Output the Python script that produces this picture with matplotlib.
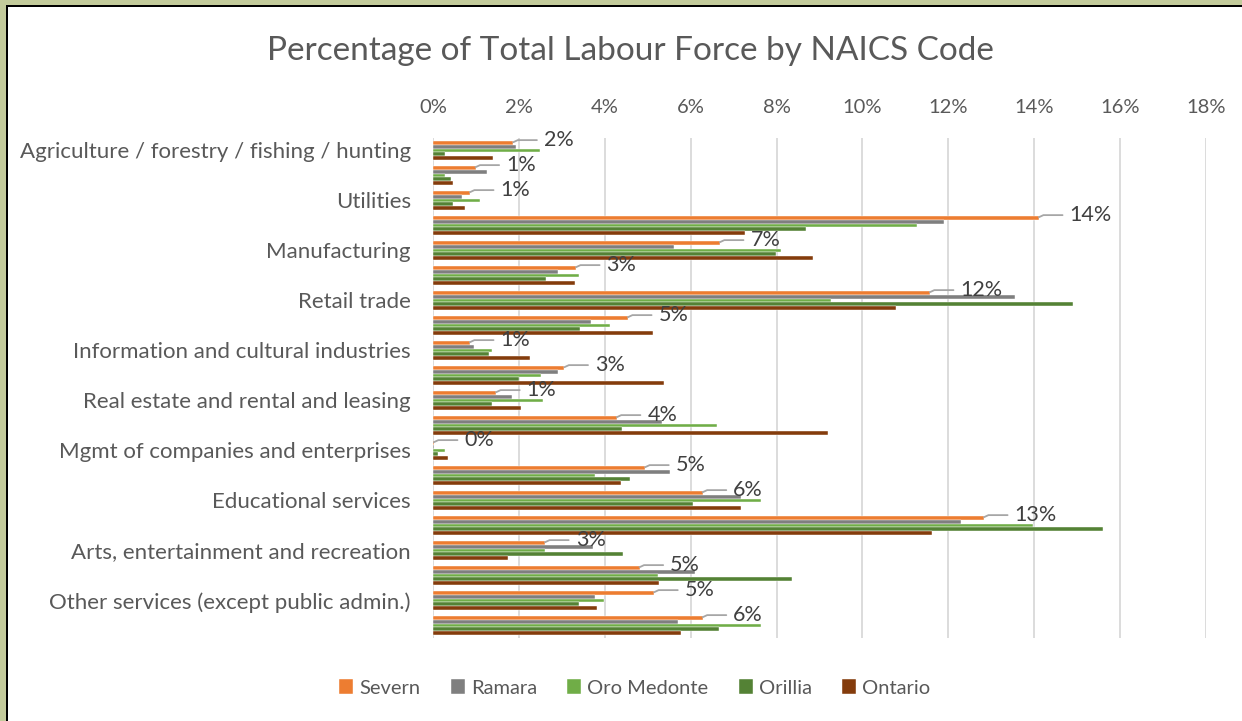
import matplotlib.pyplot as plt
import numpy as np
from matplotlib.patches import Rectangle

plt.rcParams['font.family'] = ['Lato', 'DejaVu Sans']

# NAICS sectors, top to bottom
sectors = [
    "Agriculture / forestry / fishing / hunting",
    "Mining / oil and gas extraction",
    "Utilities",
    "Construction",
    "Manufacturing",
    "Wholesale trade",
    "Retail trade",
    "Transportation and warehousing",
    "Information and cultural industries",
    "Finance and insurance",
    "Real estate and rental and leasing",
    "Professional, scientific and technical services",
    "Mgmt of companies and enterprises",
    "Administrative and support services",
    "Educational services",
    "Health care and social assistance",
    "Arts, entertainment and recreation",
    "Accommodation and food services",
    "Other services (except public admin.)",
    "Public administration",
]

# share of total labour force (%)
severn = [1.87, 0.99, 0.86, 14.11, 6.68, 3.33, 11.57, 4.54, 0.86, 3.06,
          1.47, 4.28, 0.02, 4.94, 6.28, 12.83, 2.61, 4.81, 5.15, 6.28]
ramara = [1.93, 1.25, 0.67, 11.91, 5.61, 2.90, 13.55, 3.67, 0.95, 2.90,
          1.83, 5.33, 0.03, 5.51, 7.17, 12.30, 3.73, 6.10, 3.77, 5.71]
oro_medonte = [2.48, 0.28, 1.09, 11.26, 8.10, 3.41, 9.27, 4.11, 1.37, 2.51,
               2.55, 6.62, 0.28, 3.77, 7.64, 13.96, 2.61, 5.25, 3.98, 7.64]
orillia = [0.28, 0.41, 0.47, 8.68, 7.99, 2.63, 14.91, 3.42, 1.30, 2.01,
           1.37, 4.39, 0.12, 4.59, 6.06, 15.60, 4.43, 8.35, 3.41, 6.66]
ontario = [1.40, 0.46, 0.75, 7.27, 8.86, 3.31, 10.78, 5.12, 2.27, 5.38,
           2.04, 9.19, 0.34, 4.37, 7.17, 11.61, 1.75, 5.27, 3.81, 5.78]

series = [
    ("Severn", severn, "#ED7D31"),
    ("Ramara", ramara, "#7F7F7F"),
    ("Oro Medonte", oro_medonte, "#70AD47"),
    ("Orillia", orillia, "#548235"),
    ("Ontario", ontario, "#843C0C"),
]

fig = plt.figure(figsize=(12.42, 7.21), dpi=100)
fig.patch.set_facecolor("white")

# olive frame with a dark rule along the top and left edges
fig.patches.append(Rectangle((0, 1 - 5 / 721), 1, 5 / 721, transform=fig.transFigure,
                             facecolor="#C3CB9B", edgecolor="none", zorder=0))
fig.patches.append(Rectangle((0, 0), 6 / 1242, 1, transform=fig.transFigure,
                             facecolor="#C3CB9B", edgecolor="none", zorder=0))
fig.patches.append(Rectangle((6 / 1242, 0), 2.2 / 1242, 1 - 5 / 721, transform=fig.transFigure,
                             facecolor="black", edgecolor="none", zorder=1))
fig.patches.append(Rectangle((6 / 1242, 1 - 7.2 / 721), 1, 2.2 / 721, transform=fig.transFigure,
                             facecolor="black", edgecolor="none", zorder=1))

ax = fig.add_axes([433 / 1242, 1 - 638 / 721, 773 / 1242, 500 / 721])

y = np.arange(len(sectors))
h = 0.156
for i, (name, vals, col) in enumerate(series):
    ax.barh(y + (i - 2) * h, vals, height=h, color=col, label=name,
            edgecolor="white", linewidth=0.3, zorder=3)

# data labels with leader lines for Severn
for yi, v in zip(y, severn):
    ax.annotate(f"{v:.0f}%", xy=(v, yi - 2 * h - 0.02), xytext=(22, 1.5),
                textcoords="offset points", ha="left", va="center",
                fontsize=15.5, color="#404040",
                arrowprops=dict(arrowstyle="-", color="#A6A6A6", lw=1.3,
                                connectionstyle="angle,angleA=0,angleB=25,rad=0",
                                shrinkA=3, shrinkB=0),
                zorder=5)

ax.set_xlim(0, 18)
ax.set_ylim(len(sectors) - 0.5, -0.5)
ax.set_xticks(np.arange(0, 19, 2))
ax.set_xticklabels([f"{t}%" for t in range(0, 19, 2)])
ax.xaxis.tick_top()
ax.tick_params(axis="x", length=0, pad=16, labelsize=14.5, labelcolor="#595959")

ax.set_yticks(y[::2])
ax.set_yticklabels(sectors[::2])
ax.tick_params(axis="y", length=0, pad=16, labelsize=16, labelcolor="#595959")

ax.grid(axis="x", color="#D9D9D9", lw=1.3, zorder=0)
ax.set_axisbelow(True)
for s in ax.spines.values():
    s.set_visible(False)

fig.text(0.508, 0.929, "Percentage of Total Labour Force by NAICS Code",
         ha="center", va="center", fontsize=24, color="#595959")

fig.legend(loc="center", bbox_to_anchor=(0.511, 1 - 688 / 721), ncol=5, frameon=False,
           fontsize=14.5, labelcolor="#595959", handlelength=0.7, handleheight=0.7,
           handletextpad=0.3, columnspacing=1.5)

fig.savefig("out.png", dpi=100)
